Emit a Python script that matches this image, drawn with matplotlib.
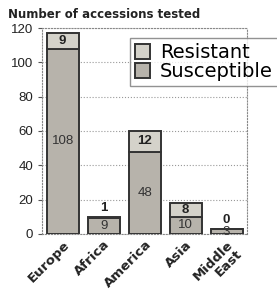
import numpy as np
import matplotlib.pyplot as plt

# data
regions = ["Europe", "Africa", "America", "Asia", "Middle\nEast"]
susceptible = [108, 9, 48, 10, 3]
resistant = [9, 1, 12, 8, 0]
y_ticks = [0, 20, 40, 60, 80, 100, 120]

col_res = "#d4d2ca"
col_sus = "#b7b3ab"
edge = "#333333"

fig = plt.figure(figsize=(2.77, 2.95), dpi=100)
ax = fig.add_axes([0.152, 0.207, 0.74, 0.698])

x = np.arange(len(regions))
b_sus = ax.bar(x, susceptible, width=0.78, color=col_sus, edgecolor=edge,
               linewidth=1.4, label="Susceptible", zorder=3)
b_res = ax.bar(x, resistant, width=0.78, bottom=susceptible, color=col_res,
               edgecolor=edge, linewidth=1.4, label="Resistant", zorder=3)

# value labels
for i in range(len(regions)):
    s = susceptible[i]
    r = resistant[i]
    top = s + r
    ax.text(x[i], s / 2 if s > 5 else 1, str(s), ha="center", va="center",
            fontsize=9.5, color="#333333", family="Liberation Sans", zorder=4)
    if r >= 5:
        ax.text(x[i], s + r / 2, str(r), ha="center", va="center",
                fontsize=9.5, fontweight="bold", color="#222222",
                family="Liberation Sans", zorder=4)
    else:
        ax.text(x[i], top + 1.5, str(r), ha="center", va="bottom",
                fontsize=9.5, fontweight="bold", color="#222222",
                family="Liberation Sans", zorder=4)

ax.set_xlim(-0.5, len(regions) - 0.5)
ax.set_ylim(0, 120)
ax.set_yticks(y_ticks)
ax.set_yticklabels([str(v) for v in y_ticks], fontsize=9.5,
                   family="Liberation Sans", color="#222222")
ax.set_xticks(x)
ax.set_xticklabels(regions, rotation=45, ha="right", rotation_mode="anchor",
                   fontsize=9.5, fontweight="bold", color="#222222",
                   linespacing=0.95)
ax.tick_params(axis="x", length=0, pad=3)
ax.tick_params(axis="y", length=3, color="#555555")

ax.grid(axis="y", linestyle=":", color="#999999", linewidth=0.8, zorder=0)
for side in ["top", "right", "left", "bottom"]:
    ax.spines[side].set_linestyle(":")
    ax.spines[side].set_color("#888888")

fig.text(0.03, 0.952, "Number of accessions tested", fontsize=8.5,
         fontweight="bold", color="#222222", va="center")

fig.legend([b_res, b_sus], ["Resistant", "Susceptible"], loc="upper left",
           bbox_to_anchor=(130 / 277, 1 - 38 / 295), fontsize=14,
           frameon=True, fancybox=False, edgecolor="#777777",
           handlelength=0.8, handleheight=0.8, handletextpad=0.5,
           labelspacing=0.0, borderpad=0.25, borderaxespad=0)

fig.savefig("out.png", dpi=100)
